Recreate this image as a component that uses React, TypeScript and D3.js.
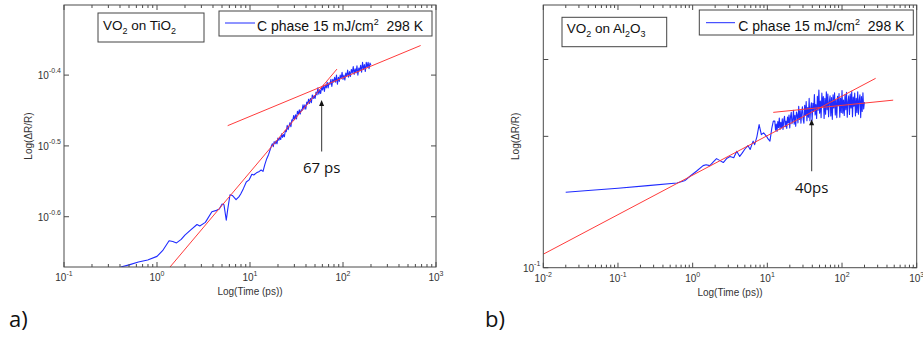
import * as d3 from "d3";

// all values are log10: [log10(time / ps), log10(ΔR/R)]
type Pt = [number, number];

const curveTiO2: Pt[] = [
  [-0.39, -0.671], [-0.3, -0.668], [-0.2, -0.664], [-0.1, -0.661], [0.0, -0.656], [0.06, -0.648],
  [0.13, -0.634], [0.17, -0.635], [0.21, -0.637], [0.26, -0.632], [0.3, -0.626], [0.36, -0.619],
  [0.43, -0.611], [0.46, -0.613], [0.52, -0.608], [0.59, -0.593], [0.64, -0.591], [0.67, -0.589],
  [0.7, -0.582], [0.72, -0.583], [0.745, -0.605], [0.76, -0.59], [0.785, -0.569], [0.81, -0.57],
  [0.85, -0.576], [0.88, -0.572], [0.9, -0.568], [0.93, -0.56], [0.96, -0.551], [0.99, -0.548],
  [1.02, -0.54], [1.04, -0.541], [1.07, -0.538], [1.1, -0.536], [1.12, -0.534], [1.14, -0.536],
  [1.16, -0.526], [1.18, -0.518], [1.2, -0.512], [1.22, -0.504],
  [1.24, -0.497], [1.25, -0.501], [1.26, -0.494], [1.27, -0.497], [1.28, -0.493], [1.29, -0.497],
  [1.3, -0.489], [1.31, -0.492], [1.32, -0.488], [1.33, -0.491], [1.34, -0.483], [1.35, -0.488],
  [1.36, -0.484], [1.37, -0.487], [1.38, -0.478], [1.39, -0.48], [1.4, -0.471], [1.41, -0.477],
  [1.42, -0.472], [1.43, -0.467], [1.44, -0.473], [1.45, -0.463], [1.46, -0.464], [1.47, -0.457],
  [1.48, -0.463], [1.49, -0.456], [1.5, -0.462], [1.51, -0.451], [1.52, -0.455], [1.53, -0.449],
  [1.54, -0.455], [1.55, -0.449], [1.56, -0.45], [1.57, -0.442], [1.58, -0.448], [1.59, -0.442],
  [1.6, -0.448], [1.61, -0.438], [1.62, -0.441], [1.63, -0.434], [1.64, -0.44], [1.65, -0.433],
  [1.66, -0.439], [1.67, -0.428], [1.68, -0.433], [1.69, -0.429], [1.7, -0.433], [1.71, -0.424],
  [1.72, -0.428], [1.73, -0.418], [1.74, -0.427], [1.75, -0.421], [1.76, -0.426], [1.77, -0.417],
  [1.78, -0.421], [1.79, -0.414], [1.8, -0.423], [1.81, -0.414], [1.82, -0.418], [1.83, -0.41],
  [1.84, -0.418], [1.85, -0.411], [1.86, -0.413], [1.87, -0.406], [1.88, -0.416], [1.89, -0.406],
  [1.9, -0.41], [1.91, -0.403], [1.92, -0.41], [1.93, -0.4], [1.94, -0.413], [1.95, -0.403],
  [1.96, -0.409], [1.97, -0.4], [1.98, -0.405], [1.99, -0.396], [2.0, -0.406], [2.01, -0.4],
  [2.02, -0.407], [2.03, -0.397], [2.04, -0.402], [2.05, -0.393], [2.06, -0.403], [2.07, -0.395],
  [2.08, -0.402], [2.09, -0.392], [2.1, -0.397], [2.11, -0.388], [2.12, -0.399], [2.13, -0.391],
  [2.14, -0.397], [2.15, -0.387], [2.16, -0.4], [2.17, -0.39], [2.18, -0.394], [2.19, -0.386],
  [2.2, -0.396], [2.21, -0.382], [2.22, -0.392], [2.23, -0.385], [2.24, -0.395], [2.25, -0.382],
  [2.26, -0.389], [2.27, -0.382], [2.28, -0.391], [2.29, -0.383], [2.3, -0.386]
];

const fitsTiO2: Pt[][] = [
  [[0.14, -0.671], [1.935, -0.3915]],
  [[0.76, -0.4714], [2.835, -0.3582]]
];

const curveAl2O3: Pt[] = [
  [-1.7, -0.827], [-1.4, -0.823], [-1.0, -0.818], [-0.6, -0.812], [-0.21, -0.806], [-0.1, -0.8],
  [-0.04, -0.791], [0.05, -0.779], [0.14, -0.766], [0.18, -0.764], [0.23, -0.766], [0.28, -0.757],
  [0.32, -0.75], [0.36, -0.754], [0.41, -0.759], [0.46, -0.749], [0.5, -0.745], [0.55, -0.748],
  [0.59, -0.733], [0.63, -0.745], [0.66, -0.738], [0.7, -0.728], [0.74, -0.72], [0.77, -0.729],
  [0.79, -0.719], [0.81, -0.71], [0.83, -0.718], [0.86, -0.7], [0.89, -0.672], [0.92, -0.695],
  [0.95, -0.691], [0.99, -0.699], [1.01, -0.705], [1.035, -0.71], [1.06, -0.68], [1.08, -0.664],
  [1.1, -0.664], [1.11, -0.685], [1.12, -0.671], [1.13, -0.688], [1.14, -0.665], [1.15, -0.679],
  [1.16, -0.657], [1.17, -0.683], [1.18, -0.667], [1.19, -0.679], [1.2, -0.659], [1.21, -0.683],
  [1.22, -0.662], [1.23, -0.653], [1.24, -0.677], [1.25, -0.664], [1.26, -0.681], [1.27, -0.655],
  [1.28, -0.668], [1.29, -0.65], [1.3, -0.68], [1.31, -0.654], [1.32, -0.644], [1.33, -0.67],
  [1.34, -0.662], [1.35, -0.639], [1.36, -0.671], [1.37, -0.651], [1.38, -0.676], [1.39, -0.643],
  [1.4, -0.65], [1.41, -0.668], [1.42, -0.63], [1.43, -0.66], [1.44, -0.64], [1.45, -0.669],
  [1.46, -0.643], [1.47, -0.631], [1.48, -0.66], [1.49, -0.669], [1.5, -0.628], [1.51, -0.651],
  [1.52, -0.619], [1.53, -0.663], [1.54, -0.633], [1.55, -0.655], [1.56, -0.612], [1.57, -0.663],
  [1.58, -0.635], [1.59, -0.622], [1.6, -0.662], [1.61, -0.623], [1.62, -0.642], [1.63, -0.603],
  [1.64, -0.65], [1.65, -0.626], [1.66, -0.658], [1.67, -0.607], [1.68, -0.639], [1.69, -0.593],
  [1.7, -0.646], [1.71, -0.618], [1.72, -0.656], [1.73, -0.6], [1.74, -0.631], [1.75, -0.608],
  [1.76, -0.658], [1.77, -0.612], [1.78, -0.648], [1.79, -0.597], [1.8, -0.638], [1.81, -0.602],
  [1.82, -0.654], [1.83, -0.62], [1.84, -0.606], [1.85, -0.652], [1.86, -0.61], [1.87, -0.66],
  [1.88, -0.604], [1.89, -0.634], [1.9, -0.599], [1.91, -0.65], [1.92, -0.615], [1.93, -0.656],
  [1.94, -0.607], [1.95, -0.629], [1.96, -0.601], [1.97, -0.655], [1.98, -0.612], [1.99, -0.644],
  [2.0, -0.594], [2.01, -0.646], [2.02, -0.616], [2.03, -0.651], [2.04, -0.603], [2.05, -0.638],
  [2.06, -0.598], [2.07, -0.655], [2.08, -0.619], [2.09, -0.606], [2.1, -0.649], [2.11, -0.602],
  [2.12, -0.634], [2.13, -0.596], [2.14, -0.654], [2.15, -0.609], [2.16, -0.63], [2.17, -0.6],
  [2.18, -0.652], [2.19, -0.612], [2.2, -0.644], [2.21, -0.597], [2.22, -0.648], [2.23, -0.615],
  [2.24, -0.604], [2.25, -0.656], [2.26, -0.608], [2.27, -0.642], [2.28, -0.599], [2.29, -0.636],
  [2.3, -0.62]
];

const fitsAl2O3: Pt[][] = [
  [[-2, -0.969], [2.45, -0.566]],
  [[1.079, -0.644], [2.685, -0.616]]
];

const xTicksTiO2 = [-1, 0, 1, 2, 3];
const yTicksTiO2 = [-0.6, -0.5, -0.4];
const xTicksAl2O3 = [-2, -1, 0, 1, 2, 3];
const yTicksAl2O3 = [-1];
const yMinorAl2O3 = [0.2, 0.3];

const legendText = "C phase 15 mJ/cm";
const legendTail = "298 K";

const axisFont = "Arial, 'Liberation Sans', sans-serif";
const noteFont = "'Open Sans', Lato, sans-serif";
const axisColor = "#4a4a4a";
const textColor = "#333";
const blue = "#1f2bff";
const red = "#ff3b3b";

type Box = { left: number; right: number; top: number; bottom: number };
type Part = { t: string; sub?: boolean };

type PanelSpec = {
  box: Box;
  xDomain: [number, number];
  yDomain: [number, number];
  xTicks: number[];
  yTicks: number[];
  yMinor: number[];
  curve: Pt[];
  fits: Pt[][];
  sample: Part[];
  sampleBox: { x: number; y: number; w: number; h: number; tx: number; ty: number };
  legend: { x: number; y: number; w: number; h: number; l0: number; l1: number; ly: number; tx: number; ty: number };
  note: { t: number; tip: number; tail: number; text: number; label: string };
  tag: { text: string; x: number; y: number };
  yTitleX: number;
  id: string;
};

function Panel({ p }: { p: PanelSpec }) {
  const { box } = p;
  const x = d3.scaleLinear(p.xDomain, [box.left, box.right]);
  const y = d3.scaleLinear(p.yDomain, [box.bottom, box.top]);
  const line = d3.line<Pt>().x(d => x(d[0])).y(d => y(d[1]));
  const minor = d3.range(p.xDomain[0], p.xDomain[1]).flatMap(dec =>
    d3.range(2, 10).map(k => dec + Math.log10(k))
  );
  const midY = (box.top + box.bottom) / 2;
  const ax = x(p.note.t);
  const tipY = y(p.note.tip);

  return (
    <g>
      <defs>
        <clipPath id={`clip-${p.id}`}>
          <rect x={box.left} y={box.top} width={box.right - box.left} height={box.bottom - box.top} />
        </clipPath>
      </defs>

      <g clipPath={`url(#clip-${p.id})`}>
        <path d={line(p.curve) ?? undefined} fill="none" stroke={blue} strokeWidth={1.1} strokeLinejoin="round" />
        {p.fits.map((f, i) => (
          <path key={i} d={line(f) ?? undefined} fill="none" stroke={red} strokeWidth={1} />
        ))}
      </g>

      {/* x ticks, bottom and top */}
      {p.xTicks.map(t => (
        <g key={`M${t}`} stroke={axisColor} strokeWidth={1}>
          <line x1={x(t)} x2={x(t)} y1={box.bottom} y2={box.bottom - 5} />
          <line x1={x(t)} x2={x(t)} y1={box.top} y2={box.top + 5} />
        </g>
      ))}
      {minor.map(t => (
        <g key={`m${t}`} stroke={axisColor} strokeWidth={1}>
          <line x1={x(t)} x2={x(t)} y1={box.bottom} y2={box.bottom - 3} />
          <line x1={x(t)} x2={x(t)} y1={box.top} y2={box.top + 3} />
        </g>
      ))}
      {p.xTicks.map(t => (
        <text key={`xl${t}`} x={x(t)} y={box.bottom + 14} textAnchor="middle" fontFamily={axisFont} fontSize={10} fill={textColor}>
          10<tspan dy={-5} fontSize={7}>{t}</tspan>
        </text>
      ))}

      {/* y ticks, left and right */}
      {[...p.yTicks, ...p.yMinor.map(v => Math.log10(v))].map(t => (
        <g key={`y${t}`} stroke={axisColor} strokeWidth={1}>
          <line x1={box.left} x2={box.left + 5} y1={y(t)} y2={y(t)} />
          <line x1={box.right} x2={box.right - 5} y1={y(t)} y2={y(t)} />
        </g>
      ))}
      {p.yTicks.map(t => (
        <text key={`yl${t}`} x={box.left - 3} y={y(t) + 4} textAnchor="end" fontFamily={axisFont} fontSize={10} fill={textColor}>
          10<tspan dy={-6} fontSize={7}>{t}</tspan>
        </text>
      ))}

      <rect x={box.left} y={box.top} width={box.right - box.left} height={box.bottom - box.top} fill="none" stroke={axisColor} strokeWidth={1} />

      <text x={(box.left + box.right) / 2} y={box.bottom + 28} textAnchor="middle" fontFamily={axisFont} fontSize={10} fill={textColor}>
        Log(Time (ps))
      </text>
      <text
        x={p.yTitleX}
        y={midY}
        textAnchor="middle"
        fontFamily={axisFont}
        fontSize={10}
        fill={textColor}
        transform={`rotate(-90 ${p.yTitleX} ${midY})`}
      >
        Log(ΔR/R)
      </text>

      {/* sample label */}
      <rect x={p.sampleBox.x} y={p.sampleBox.y} width={p.sampleBox.w} height={p.sampleBox.h} fill="#fff" stroke="#444" strokeWidth={1} />
      <text x={p.sampleBox.tx} y={p.sampleBox.ty} fontFamily={axisFont} fontSize={13.5} fill="#111" style={{ whiteSpace: "pre" }}>
        {p.sample.map((part, i) =>
          part.sub ? (
            <tspan key={i} fontSize={9} dy={4}>{part.t}</tspan>
          ) : (
            <tspan key={i} dy={i > 0 && p.sample[i - 1].sub ? -4 : 0}>{part.t}</tspan>
          )
        )}
      </text>

      {/* legend */}
      <rect x={p.legend.x} y={p.legend.y} width={p.legend.w} height={p.legend.h} fill="#fff" stroke="#444" strokeWidth={1} />
      <line x1={p.legend.l0} x2={p.legend.l1} y1={p.legend.ly} y2={p.legend.ly} stroke={blue} strokeWidth={1} />
      <text x={p.legend.tx} y={p.legend.ty} fontFamily={axisFont} fontSize={14} fill="#111" style={{ whiteSpace: "pre" }}>
        {legendText}
        <tspan dy={-6} fontSize={9}>2</tspan>
        <tspan dy={6}>{"  " + legendTail}</tspan>
      </text>

      {/* annotation arrow */}
      <line x1={ax} x2={ax} y1={y(p.note.tail)} y2={tipY + 5} stroke="#555" strokeWidth={1.2} />
      <path d={`M${ax},${tipY} L${ax - 2.5},${tipY + 6} L${ax + 2.5},${tipY + 6} Z`} fill="#111" />
      <text x={ax} y={y(p.note.text)} textAnchor="middle" fontFamily={noteFont} fontSize={15} fill="#111">
        {p.note.label}
      </text>

      <text x={p.tag.x} y={p.tag.y} fontFamily={noteFont} fontSize={22} fill="#111">
        {p.tag.text}
      </text>
    </g>
  );
}

const panels: PanelSpec[] = [
  {
    id: "a",
    box: { left: 64, right: 436, top: 5, bottom: 267 },
    xDomain: [-1, 3],
    yDomain: [-0.671, -0.301],
    xTicks: xTicksTiO2,
    yTicks: yTicksTiO2,
    yMinor: [],
    curve: curveTiO2,
    fits: fitsTiO2,
    sample: [{ t: "VO" }, { t: "2", sub: true }, { t: " on TiO" }, { t: "2", sub: true }],
    sampleBox: { x: 98, y: 13, w: 106, h: 29, tx: 103, ty: 29.5 },
    legend: { x: 219, y: 11, w: 213, h: 25, l0: 225, l1: 255, ly: 23, tx: 257, ty: 30.5 },
    note: { t: 1.77, tip: -0.435, tail: -0.508, text: -0.538, label: "67 ps" },
    tag: { text: "a)", x: 9, y: 327 },
    yTitleX: 32
  },
  {
    id: "b",
    box: { left: 543.3, right: 916.7, top: 5, bottom: 267.7 },
    xDomain: [-2, 3],
    yDomain: [-1, Math.log10(0.4)],
    xTicks: xTicksAl2O3,
    yTicks: yTicksAl2O3,
    yMinor: yMinorAl2O3,
    curve: curveAl2O3,
    fits: fitsAl2O3,
    sample: [{ t: "VO" }, { t: "2", sub: true }, { t: " on Al" }, { t: "2", sub: true }, { t: "O" }, { t: "3", sub: true }],
    sampleBox: { x: 562, y: 17.3, w: 104.7, h: 29.4, tx: 566.7, ty: 33.3 },
    legend: { x: 699.3, y: 10, w: 214, h: 25, l0: 706, l1: 735, ly: 22.7, tx: 738.3, ty: 30.7 },
    note: { t: 1.593, tip: -0.66, tail: -0.779, text: -0.828, label: "40ps" },
    tag: { text: "b)", x: 485, y: 327 },
    yTitleX: 519
  }
];

export default function App() {
  return (
    <svg
      width={923}
      height={339}
      viewBox="0 0 923 339"
      style={{ position: "absolute", left: 0, top: 0, background: "#fff" }}
    >
      <rect width={923} height={339} fill="#fff" />
      {panels.map(p => (
        <Panel key={p.id} p={p} />
      ))}
    </svg>
  );
}
